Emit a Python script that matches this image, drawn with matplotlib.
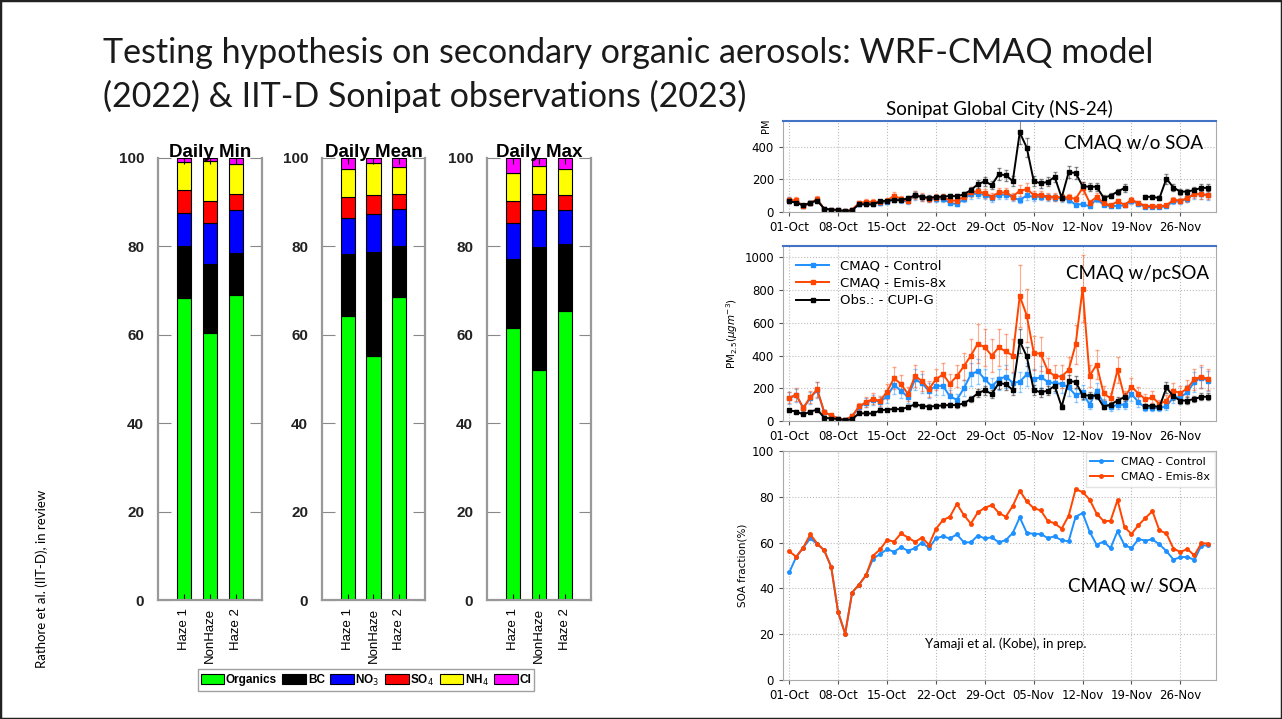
import matplotlib
matplotlib.use("Agg")
import matplotlib.pyplot as plt
import matplotlib.dates as mdates
from matplotlib.patches import Rectangle
import numpy as np
import pandas as pd

# ---- left: chemical composition (%) ----
panels = ["Daily Min", "Daily Mean", "Daily Max"]
groups = ["Haze 1", "NonHaze", "Haze 2"]
species = ["Organics", "BC", "NO$_3$", "SO$_4$", "NH$_4$", "Cl"]
species_colors = ["#00ff00", "#000000", "#0000ff", "#ff0000", "#ffff00", "#ff00ff"]
organics = [[68.3, 60.3, 68.9], [64.2, 55.3, 68.5], [61.6, 52.1, 65.4]]
bc = [[11.7, 15.7, 9.7], [14.05, 23.5, 11.7], [15.5, 27.7, 15.2]]
no3 = [[7.5, 9.25, 9.55], [8.15, 8.5, 8.36], [8.1, 8.5, 7.6]]
so4 = [[5.3, 5.05, 3.8], [4.7, 4.4, 3.24], [5.1, 3.5, 3.4]]
nh4 = [[6.2, 8.95, 6.7], [6.3, 7.1, 6.2], [6.2, 6.4, 6.0]]
cl = [[1.0, 0.75, 1.4], [2.6, 1.2, 2.0], [3.5, 1.8, 2.4]]

# ---- right: daily series 01-Oct .. 30-Nov ----
dates = pd.date_range("2023-10-01", "2023-11-30", freq="D")

obs_pm = [65, 58, 40, 57, 70, 20, 15, 12, 5, 10,
          48, 46, 46, 65, 70, 73, 72, 85, 102, 92,
          88, 92, 95, 98, 97, 108, 135, 170, 188, 165,
          232, 225, 190, 488, 395, 190, 175, 185, 215, 88,
          243, 240, 158, 155, 155, 88, 100, 125, 147, np.nan,
          np.nan, 93, 93, 85, 205, 150, 125, 125, 135, 148, 148]

nosoa_ctrl = [75, 65, 35, 55, 75, 18, 14, 10, 5, 12,
              52, 55, 55, 55, 62, 80, 72, 65, 102, 90,
              80, 82, 82, 55, 48, 80, 110, 112, 105, 85,
              105, 107, 90, 72, 102, 92, 95, 90, 88, 85,
              75, 45, 48, 35, 78, 45, 35, 38, 40, 68,
              50, 30, 30, 30, 35, 65, 65, 82, 110, 108, 102]
nosoa_emis = [72, 72, 35, 55, 78, 20, 15, 12, 6, 15,
              55, 62, 62, 60, 70, 100, 80, 70, 105, 92,
              80, 88, 90, 72, 68, 95, 120, 127, 115, 95,
              120, 120, 95, 130, 140, 105, 105, 95, 92, 90,
              90, 80, 148, 58, 92, 55, 40, 65, 45, 75,
              55, 38, 35, 35, 40, 75, 70, 85, 112, 108, 105]

pcsoa_ctrl = [140, 158, 78, 140, 190, 52, 33, 14, 7, 28,
              85, 112, 128, 118, 150, 220, 185, 145, 255, 230,
              185, 215, 215, 150, 130, 200, 285, 305, 255, 212,
              255, 272, 233, 240, 285, 255, 268, 240, 230, 228,
              205, 158, 175, 100, 185, 110, 83, 100, 100, 165,
              115, 80, 80, 80, 90, 145, 145, 175, 240, 265, 245]
pcsoa_emis = [143, 160, 80, 145, 193, 55, 35, 15, 8, 30,
              90, 115, 135, 122, 180, 262, 225, 165, 275, 245,
              195, 255, 285, 228, 275, 335, 400, 473, 450, 400,
              450, 425, 400, 765, 645, 418, 410, 308, 275, 272,
              312, 468, 810, 275, 345, 170, 138, 312, 145, 210,
              168, 132, 145, 105, 125, 185, 170, 200, 255, 272, 255]

soa_ctrl = [47.0, 53.8, 57.8, 61.8, 59.4, 56.6, 49.4, 29.5, 20.2, 38.2,
            41.7, 45.8, 53.0, 55.0, 57.1, 56.0, 58.0, 56.4, 57.6, 60.0,
            57.6, 61.9, 62.7, 61.8, 63.6, 60.1, 60.1, 63.1, 61.8, 62.3,
            60.1, 61.1, 64.2, 71.0, 64.3, 63.8, 63.8, 62.0, 62.7, 61.0,
            60.6, 71.3, 72.9, 64.8, 59.1, 60.4, 57.6, 65.0, 58.9, 57.6,
            61.5, 60.9, 61.4, 59.2, 56.3, 52.6, 53.6, 53.8, 52.4, 58.7, 58.8]
soa_emis = [56.2, 53.8, 57.8, 63.6, 59.6, 56.6, 49.4, 29.5, 20.2, 38.2,
            41.7, 45.8, 54.3, 57.0, 61.2, 60.4, 64.0, 62.2, 60.3, 62.2,
            59.0, 66.0, 69.8, 71.3, 76.9, 72.0, 68.3, 73.2, 75.2, 76.4,
            73.0, 71.3, 76.0, 82.7, 78.0, 75.0, 74.1, 69.5, 68.4, 66.1,
            71.7, 83.3, 82.1, 78.8, 72.7, 69.4, 69.5, 78.6, 66.7, 63.8,
            67.6, 70.8, 73.7, 65.3, 64.0, 57.4, 55.9, 57.2, 54.4, 59.7, 59.6]

BLUE = "#1e90ff"
RED = "#ff4500"

W, H = 1282, 719
fig = plt.figure(figsize=(W / 100, H / 100), dpi=100)
fig.patch.set_facecolor("white")


def px_axes(l, t, r, b):
    return fig.add_axes([l / W, 1 - b / H, (r - l) / W, (b - t) / H])


# slide border
fig.add_artist(Rectangle((0, 0), 1, 1, transform=fig.transFigure,
                         fill=False, edgecolor="#222222", lw=2.5))

title_kw = dict(fontsize=24.5, family="Lato", color="#1a1a1a")
fig.text(103 / W, 1 - 63 / H,
         "Testing hypothesis on secondary organic aerosols: WRF-CMAQ model",
         **title_kw)
fig.text(103 / W, 1 - 107 / H,
         "(2022) & IIT-D Sonipat observations (2023)", **title_kw)
fig.text(42 / W, 1 - 579 / H, "Rathore et al. (IIT-D), in review",
         rotation=90, ha="center", va="center", fontsize=9.5, family="Lato")

# ---- stacked bars ----
stack = [organics, bc, no3, so4, nh4, cl]
bar_boxes = [(158, 262), (322, 425), (487, 591)]
xpos = np.arange(1, 4)
for p, (l, r) in enumerate(bar_boxes):
    ax = px_axes(l, 158, r, 600)
    bottom = np.zeros(3)
    for s, vals in enumerate(stack):
        v = np.array(vals[p])
        ax.bar(xpos, v, 0.55, bottom=bottom, color=species_colors[s],
               edgecolor="black", linewidth=0.8, label=species[s])
        bottom += v
    ax.set_xlim(0, 4)
    ax.set_ylim(0, 100)
    ax.set_xticks(xpos)
    ax.set_xticklabels(groups, rotation=90, fontsize=9.5, family="Liberation Sans")
    ax.set_yticks([0, 20, 40, 60, 80, 100])
    ax.set_yticklabels(["0", "20", "40", "60", "80", "100"],
                       fontsize=11, fontweight="bold", family="Liberation Sans",
                       color="#222222")
    ax.tick_params(axis="y", direction="in", length=9, color="#888888",
                   right=True, pad=10)
    ax.tick_params(axis="x", direction="in", length=4, top=True, pad=6)
    ax.spines["top"].set_visible(False)
    for sp in ["left", "right", "bottom"]:
        ax.spines[sp].set_color("#999999")
        ax.spines[sp].set_linewidth(1.6)
    ax.set_title(panels[p], fontsize=13.5, fontweight="bold",
                 family="Liberation Sans", pad=1)
    if p == 0:
        handles, labels = ax.get_legend_handles_labels()

fig.legend(handles, labels, loc="center", ncol=6,
           bbox_to_anchor=(366 / W, 1 - 680 / H), frameon=True,
           fancybox=False, edgecolor="#888888", handlelength=2.0,
           handleheight=0.9, handletextpad=0.15, columnspacing=0.45,
           borderpad=0.25, borderaxespad=0.0,
           prop={"family": "Liberation Sans", "weight": "bold", "size": 8.5})

# ---- time series ----
xmin = dates[0] - pd.Timedelta(days=0.9)
xmax = dates[0] + pd.Timedelta(days=61.1)
tick_dates = dates[::7]


def style_ts(ax, ylim, yticks):
    ax.set_xlim(xmin, xmax)
    ax.set_ylim(*ylim)
    ax.set_yticks(yticks)
    ax.set_xticks(tick_dates)
    ax.xaxis.set_major_formatter(mdates.DateFormatter("%d-%b"))
    ax.tick_params(labelsize=8.5, length=3, color="#555555")
    ax.grid(True, linestyle=":", color="#bbbbbb", linewidth=0.8)
    for sp in ax.spines.values():
        sp.set_color("#aaaaaa")
        sp.set_linewidth(0.8)


def err_series(ax, y, color, label, frac):
    y = np.array(y, dtype=float)
    ax.errorbar(dates, y, yerr=frac * y, fmt="none", ecolor=color,
                elinewidth=0.8, capsize=1.5, alpha=0.45)
    ax.errorbar(dates, y, color=color, marker="s", ms=2.2, lw=1.4,
                label=label)


# top: w/o SOA
ax_t = px_axes(783, 121, 1216, 212)
err_series(ax_t, nosoa_ctrl, BLUE, "CMAQ - Control", 0.25)
err_series(ax_t, nosoa_emis, RED, "CMAQ - Emis-8x", 0.25)
err_series(ax_t, obs_pm, "black", "Obs.: - CUPI-G", 0.15)
style_ts(ax_t, (0, 558), [0, 200, 400])
ax_t.spines["top"].set_color("#4472c4")
ax_t.spines["top"].set_linewidth(1.5)
ax_t.set_title("Sonipat Global City (NS-24)", fontsize=13.5, family="Lato",
               pad=4)
ax_t.text(0.97, 0.75, "CMAQ w/o SOA", transform=ax_t.transAxes, ha="right",
          va="center", fontsize=13.5, family="Lato")
ax_t.set_ylabel("PM", fontsize=7, labelpad=2)
ax_t.yaxis.set_label_coords(-0.028, 0.95)

# middle: w/ pcSOA
ax_m = px_axes(783, 246, 1216, 421)
err_series(ax_m, pcsoa_ctrl, BLUE, "CMAQ - Control", 0.25)
err_series(ax_m, pcsoa_emis, RED, "CMAQ - Emis-8x", 0.25)
err_series(ax_m, obs_pm, "black", "Obs.: - CUPI-G", 0.15)
style_ts(ax_m, (0, 1070), [0, 200, 400, 600, 800, 1000])
ax_m.spines["top"].set_color("#4472c4")
ax_m.spines["top"].set_linewidth(1.5)
ax_m.legend(loc="upper left", fontsize=9.5, frameon=False,
            handlelength=2.5, borderaxespad=0.6, labelspacing=0.35)
ax_m.text(0.985, 0.84, "CMAQ w/pcSOA", transform=ax_m.transAxes, ha="right",
          va="center", fontsize=13.5, family="Lato")
ax_m.set_ylabel("PM$_{2.5}$($\\mu gm^{-3}$)", fontsize=7.5, labelpad=3)

# bottom: SOA fraction
ax_b = px_axes(783, 451, 1216, 680)
ax_b.plot(dates, soa_ctrl, color=BLUE, marker="o", ms=2.5, lw=1.4,
          label="CMAQ - Control")
ax_b.plot(dates, soa_emis, color=RED, marker="o", ms=2.5, lw=1.4,
          label="CMAQ - Emis-8x")
style_ts(ax_b, (0, 100), [0, 20, 40, 60, 80, 100])
ax_b.legend(loc="upper right", fontsize=8, fancybox=False,
            edgecolor="#dddddd", borderaxespad=0.1)
ax_b.text(0.955, 0.41, "CMAQ w/ SOA", transform=ax_b.transAxes, ha="right",
          va="center", fontsize=13.5, family="Lato")
ax_b.text(0.515, 0.16, "Yamaji et al. (Kobe), in prep.",
          transform=ax_b.transAxes, ha="center", va="center", fontsize=9.5,
          family="Lato")
ax_b.set_ylabel("SOA fraction(%)", fontsize=7.5, labelpad=3)

fig.savefig("out.png", dpi=100)
